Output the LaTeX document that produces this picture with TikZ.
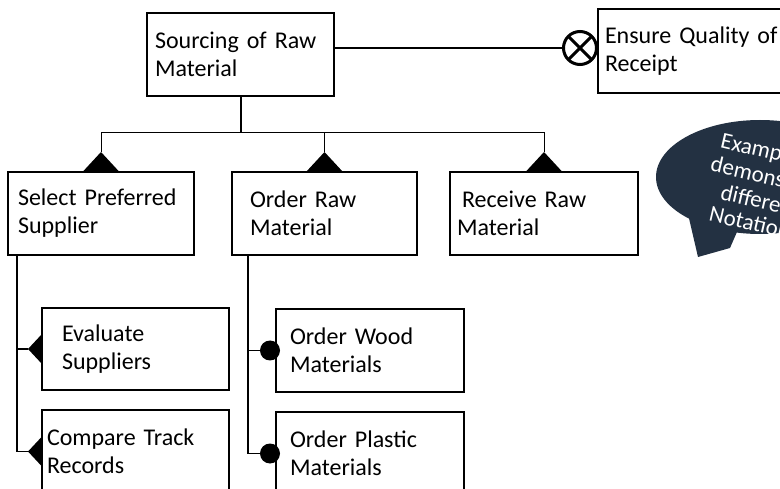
\documentclass[tikz,border=0pt]{standalone}
\usepackage{fontspec}
\setmainfont{Carlito}
\usetikzlibrary{calc}
\definecolor{bubble}{RGB}{35,49,66}
\begin{document}
\begin{tikzpicture}[x=1pt,y=-1pt,
  box/.style={draw, line width=1.8pt, fill=white, outer sep=0pt, minimum height=83pt,
              anchor=north west, align=left, inner ysep=0pt, font=\fontsize{24}{28}\selectfont},
  link/.style={line width=1.3pt},
  buslink/.style={line width=1pt},
  btxt/.style={anchor=base west, inner sep=0pt, text=white,
               font=\fontsize{23}{25}\selectfont, transform shape}]
\useasboundingbox (0,0) rectangle (780,489);
\clip (0,0) rectangle (780,489);

% speech bubble
\fill[bubble] (760,177) ellipse [x radius=104, y radius=57];
\fill[bubble] (688,214) -- (698,257) -- (730,248) -- (740,225) -- cycle;
\begin{scope}[shift={(719.5,147.5)}, rotate=-13]
  \node[btxt] (b1) at (0,0) {Example};
  \node[btxt] (b2) at (-4.5,25) {demonstrating};
  \node[btxt] (b3) at (11.6,50.3) {different};
  \node[btxt] (b4) at (5.1,74) {Notations};
\end{scope}

% boxes
\node[box, minimum width=187pt, text width=171pt, inner xsep=8pt] (src) at (147,13) {Sourcing of Raw\\Material};
\node[box, minimum width=200pt, minimum height=84pt, text width=186pt, inner xsep=7pt] (ens) at (598,9) {Ensure Quality of\\Receipt};
\node[box, minimum width=186pt, text width=166pt, inner xsep=10pt] (sel) at (8,172) {Select Preferred\\Supplier};
\node[box, minimum width=185pt, text width=149pt, inner xsep=18pt] (ord) at (232,172) {Order Raw\\Material};
\node[box, minimum width=188pt, text width=174pt, inner xsep=7pt] (rec) at (450,172) {\leavevmode\hspace*{5pt}Receive Raw\\Material};
\node[box, minimum width=187pt, minimum height=82pt, text width=147pt, inner xsep=20pt] (ev) at (42,308) {Evaluate\\Suppliers};
\node[box, minimum width=187pt, text width=177pt, inner xsep=5pt] (cmp) at (42,410) {Compare Track\\Records};
\node[box, minimum width=188pt, text width=160pt, inner xsep=14pt] (wood) at (276,309) {Order Wood\\Materials};
\node[box, minimum width=188pt, text width=160pt, inner xsep=14pt] (plas) at (276,412) {Order Plastic\\Materials};

% exclusive-or connector
\node[circle, draw, line width=3pt, minimum size=33pt, inner sep=0pt, outer sep=0pt] (qx) at (580,48) {};
\draw[line width=3pt] (qx.north west) -- (qx.south east) (qx.north east) -- (qx.south west);
\draw[line width=2pt] (src.east |- qx) -- (qx.west);

% top level tree
\coordinate (busY) at (0,133);
\coordinate (selT) at ($(sel.north)+(0,-20)$);
\coordinate (ordT) at ($(ord.north)+(0,-20)$);
\coordinate (recT) at ($(rec.north)+(0,-20)$);
\draw[line width=2pt] (src.south) -- (src.south |- busY);
\draw[buslink] (selT) -- (selT |- busY) -- (recT |- busY) -- (recT);
\draw[buslink] (ordT) -- (ordT |- busY);
\fill ($(sel.north)+(-18.5,0)$) -- (selT) -- ($(sel.north)+(18.5,0)$) -- cycle;
\fill ($(ord.north)+(-18.5,0)$) -- (ordT) -- ($(ord.north)+(18.5,0)$) -- cycle;
\fill ($(rec.north)+(-18.5,0)$) -- (recT) -- ($(rec.north)+(18.5,0)$) -- cycle;

% select supplier subtree
\coordinate (selK) at ($(sel.south west)+(9,0)$);
\coordinate (evT) at ($(ev.west)+(-14,0)$);
\coordinate (cmT) at ($(cmp.west)+(-14,0)$);
\draw[link] (selK) |- (cmT);
\draw[link] (selK |- evT) -- (evT);
\fill ($(ev.west)+(0,-15)$) -- (evT) -- ($(ev.west)+(0,15)$) -- cycle;
\fill ($(cmp.west)+(0,-15)$) -- (cmT) -- ($(cmp.west)+(0,15)$) -- cycle;

% order raw material subtree
\coordinate (ordK) at ($(ord.south west)+(16,0)$);
\coordinate (wdC) at ($(wood.west)+(-6,0)$);
\coordinate (plC) at ($(plas.west)+(-6,0)$);
\draw[link] (ordK) |- (plC);
\draw[link] (ordK |- wdC) -- (wdC);
\fill (wdC) circle[radius=10pt];
\fill (plC) circle[radius=10pt];
\end{tikzpicture}
\end{document}
